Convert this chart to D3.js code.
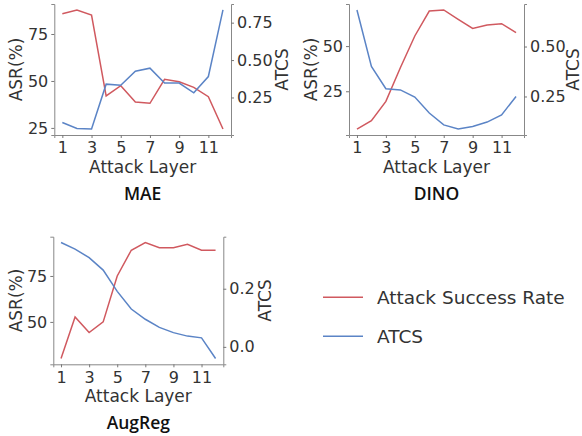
<!DOCTYPE html>
<html>
<head>
<meta charset="utf-8">
<script src="https://cdn.jsdelivr.net/npm/d3@7"></script>
<style>
  body { margin: 0; background: #fff; }
  text { fill: #333; }
  .tick text { font-family: "DejaVu Sans", sans-serif; font-size: 16px; fill: #333; }
  .tick line { stroke: #777; }
  .domain { stroke: #888; }
  .lbl { font-family: "DejaVu Sans", sans-serif; font-size: 17px; }
  .ttl { font-family: "Open Sans", sans-serif; font-size: 17.5px; font-weight: 600; fill: #111; }
  .leg { font-family: "DejaVu Sans", sans-serif; font-size: 18.5px; }
</style>
</head>
<body>
<div id="chart"></div>
<script>
var layers = [1,2,3,4,5,6,7,8,9,10,11,12];
var xTicks = [1,3,5,7,9,11];

// attack success rate (%) per layer
var maeASR    = [85.8, 87.8, 85.1, 42.0, 47.5, 38.8, 38.1, 50.9, 49.6, 46.6, 41.6, 24.4];
var dinoASR   = [4.1, 8.7, 19.4, 38.0, 55.6, 69.4, 70.0, 64.8, 59.8, 61.7, 62.4, 57.4];
var augregASR = [30.1, 52.7, 44.2, 50.0, 75.0, 89.0, 93.2, 90.4, 90.4, 92.2, 89.0, 89.0];

// ATCS per layer
var maeATCS    = [0.083, 0.043, 0.039, 0.339, 0.332, 0.426, 0.446, 0.346, 0.346, 0.281, 0.39, 0.835];
var dinoATCS   = [0.683, 0.40, 0.289, 0.283, 0.247, 0.167, 0.108, 0.087, 0.10, 0.122, 0.158, 0.25];
var augregATCS = [0.359, 0.336, 0.307, 0.264, 0.191, 0.130, 0.095, 0.067, 0.049, 0.037, 0.031, -0.040];

var asrTicksMAE = [25, 50, 75], atcsTicksMAE = [0.25, 0.50, 0.75];
var asrTicksDINO = [25, 50], atcsTicksDINO = [0.25, 0.50];
var asrTicksAug = [50, 75], atcsTicksAug = [0.0, 0.2];

var legendNames = ["Attack Success Rate", "ATCS"];

var red = "#d0595f", blue = "#5b84c6";

var svg = d3.select("#chart").append("svg")
  .attr("width", 582).attr("height", 436);

// matplotlib-style 5% padding
function padded(vals) {
  var e = d3.extent(vals), p = (e[1] - e[0]) * 0.05;
  return [e[0] - p, e[1] + p];
}

function panel(opt) {
  var g = svg.append("g");
  var x = d3.scaleLinear().domain(padded(layers)).range([opt.x0, opt.x1]);
  var yL = d3.scaleLinear().domain(padded(opt.asr)).range([opt.y1, opt.y0]);
  var yR = d3.scaleLinear().domain(padded(opt.atcs)).range([opt.y1, opt.y0]);

  g.append("g").attr("transform", "translate(0," + opt.y1 + ")")
    .call(d3.axisBottom(x).tickValues(xTicks).tickSizeOuter(0).tickSize(3).tickPadding(4))
    .selectAll(".tick text").attr("dy", "0.71em");
  g.append("g").attr("transform", "translate(" + opt.x0 + ",0)")
    .call(d3.axisLeft(yL).tickValues(opt.asrTicks).tickSizeOuter(0).tickSize(3).tickPadding(3));
  g.append("g").attr("transform", "translate(" + opt.x1 + ",0)")
    .call(d3.axisRight(yR).tickValues(opt.atcsTicks).tickSizeOuter(0).tickSize(3).tickPadding(3)
      .tickFormat(d3.format(opt.fmt)));

  var line = function(ys, vals) {
    return d3.line().x(function(d, i) { return x(layers[i]); }).y(function(d) { return ys(d); })(vals);
  };
  g.append("path").attr("d", line(yL, opt.asr)).attr("fill", "none").attr("stroke", red).attr("stroke-width", 1.5);
  g.append("path").attr("d", line(yR, opt.atcs)).attr("fill", "none").attr("stroke", blue).attr("stroke-width", 1.5);

  var cx = (opt.x0 + opt.x1) / 2, cy = (opt.y0 + opt.y1) / 2;
  g.append("text").attr("class", "lbl").attr("text-anchor", "middle")
    .attr("x", cx).attr("y", opt.y1 + 38).text("Attack Layer");
  g.append("text").attr("class", "lbl").attr("text-anchor", "middle")
    .attr("transform", "translate(" + (opt.x0 - opt.lpad) + "," + cy + ") rotate(-90)")
    .attr("dy", "0.35em").text("ASR(%)");
  g.append("text").attr("class", "lbl").attr("text-anchor", "middle")
    .attr("transform", "translate(" + (opt.x1 + opt.rpad) + "," + cy + ") rotate(-90)")
    .attr("dy", "0.35em").text("ATCS");
  g.append("text").attr("class", "ttl").attr("text-anchor", "middle")
    .attr("x", cx).attr("y", opt.y1 + 65).text(opt.title);
}

panel({title: "MAE", asr: maeASR, atcs: maeATCS, asrTicks: asrTicksMAE, atcsTicks: atcsTicksMAE, fmt: ".2f",
  x0: 54.3, x1: 231, y0: 4, y1: 135, lpad: 38, rpad: 51});
panel({title: "DINO", asr: dinoASR, atcs: dinoATCS, asrTicks: asrTicksDINO, atcsTicks: atcsTicksDINO, fmt: ".2f",
  x0: 349, x1: 524, y0: 4, y1: 135, lpad: 38, rpad: 49.5});
panel({title: "AugReg", asr: augregASR, atcs: augregATCS, asrTicks: asrTicksAug, atcsTicks: atcsTicksAug, fmt: ".1f",
  x0: 53.3, x1: 223.3, y0: 236.7, y1: 364.3, lpad: 37, rpad: 42});

// legend
var leg = svg.append("g");
legendNames.forEach(function(name, i) {
  var y = 297.3 + i * 39;
  leg.append("line").attr("x1", 323).attr("x2", 363).attr("y1", y).attr("y2", y)
    .attr("stroke", i === 0 ? red : blue).attr("stroke-width", 1.5);
  leg.append("text").attr("class", "leg").attr("x", 377).attr("y", y).attr("dy", "0.35em").text(name);
});
</script>
</body>
</html>
